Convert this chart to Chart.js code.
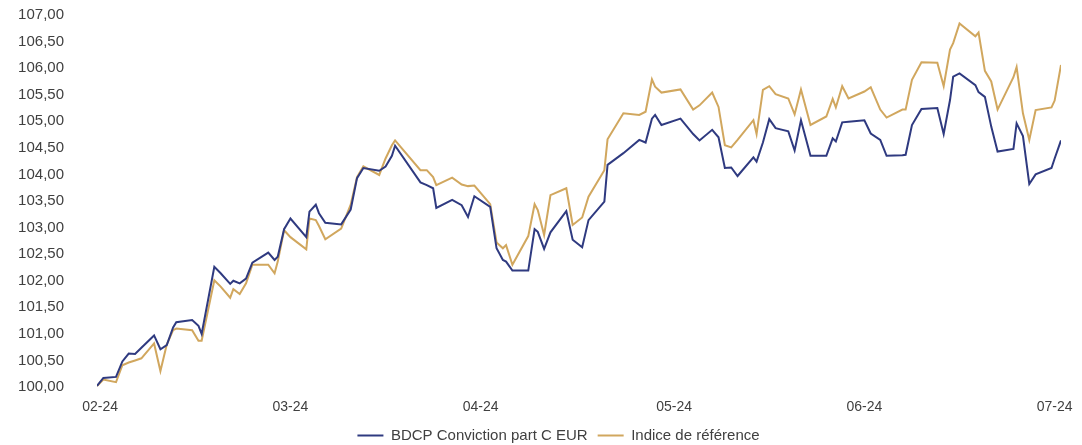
<!DOCTYPE html>
<html>
<head>
<meta charset="utf-8">
<script src="https://cdn.jsdelivr.net/npm/chart.js@4"></script>
<style>
  body { margin: 0; background: #fff; }
  #wrap { width: 1082px; height: 445px; }
</style>
</head>
<body>
<div id="wrap"><canvas id="chart1"></canvas></div>
<script>
// Performance base 100: fund vs benchmark, Feb-24 to Jul-24

// days since 1 Feb 2024
const days = [
  0, 1, 3, 4, 5, 6, 7, 9, 10, 11, 12, 12.5, 15, 16, 16.5, 18.5, 19.5, 21, 21.5, 22.5,
  23.5, 24.5, 27, 28, 28.5, 29.5, 30.5, 33, 33.5, 34.5, 35, 36, 38.5, 40, 41, 42,
  44.5, 45.5, 46.5, 47, 51, 52, 53, 53.5, 56, 57.5, 58.5, 59.5, 62, 63, 64, 64.5,
  65.5, 68, 69, 69.5, 70.5, 71.5, 74, 75, 76.5, 77.5, 80, 80.5, 83, 85.5, 86.5, 87.5,
  88, 89, 92, 94, 95, 97, 98, 99, 100, 101, 103.5, 104, 105, 106, 107, 109, 110, 111,
  112.5, 115, 116, 116.5, 117.5, 118.5, 121, 122, 123.5, 124.5, 127, 127.5, 128.5, 130,
  132.5, 133.5, 134.5, 135, 136, 138.5, 139, 140, 141, 142, 144.5, 145, 146, 147, 148,
  150.5, 151, 152
];

const fund = [
  100.02, 100.17, 100.19, 100.48, 100.63, 100.62, 100.74, 100.97, 100.71, 100.79, 101.12, 101.22, 101.26, 101.15, 101.00, 102.26, 102.14, 101.94, 102.00, 101.95,
  102.04, 102.34, 102.53, 102.39, 102.45, 102.97, 103.17, 102.82, 103.30, 103.43, 103.27, 103.09, 103.06, 103.34, 103.93, 104.12,
  104.07, 104.15, 104.35, 104.54, 103.85, 103.80, 103.74, 103.37, 103.52, 103.42, 103.20, 103.59, 103.39, 102.61, 102.39, 102.36,
  102.19, 102.19, 102.97, 102.92, 102.60, 102.91, 103.31, 102.77, 102.63, 103.14, 103.49, 104.18, 104.40, 104.65, 104.60, 105.05,
  105.12, 104.93, 105.05, 104.76, 104.64, 104.84, 104.70, 104.12, 104.13, 103.97, 104.32, 104.24, 104.60, 105.04, 104.87, 104.81, 104.45, 105.02,
  104.35, 104.35, 104.68, 104.62, 104.98, 104.99, 105.02, 104.77, 104.65, 104.35, 104.36, 104.37, 104.93, 105.23,
  105.25, 104.76, 105.40, 105.84, 105.90, 105.68, 105.55, 105.46, 104.90, 104.43, 104.48, 104.96, 104.72, 103.82, 104.00,
  104.12, 104.30, 104.64
];

const bench = [
  100.02, 100.14, 100.09, 100.41, 100.46, 100.50, 100.54, 100.82, 100.30, 100.80, 101.07, 101.10, 101.07, 100.87, 100.87, 102.01, 101.89, 101.68, 101.84, 101.75,
  101.95, 102.30, 102.30, 102.14, 102.36, 102.95, 102.82, 102.59, 103.17, 103.14, 103.03, 102.78, 102.98, 103.43, 103.95, 104.15,
  103.99, 104.30, 104.55, 104.64, 104.08, 104.08, 103.95, 103.80, 103.94, 103.81, 103.78, 103.79, 103.44, 102.72, 102.61, 102.67,
  102.30, 102.84, 103.44, 103.33, 102.86, 103.61, 103.74, 103.05, 103.19, 103.58, 104.08, 104.66, 105.15, 105.12, 105.18, 105.79,
  105.65, 105.54, 105.60, 105.22, 105.30, 105.54, 105.27, 104.55, 104.51, 104.65, 105.02, 104.76, 105.59, 105.66, 105.51, 105.43, 105.13, 105.60,
  104.93, 105.09, 105.42, 105.26, 105.66, 105.43, 105.56, 105.64, 105.22, 105.07, 105.22, 105.22, 105.78, 106.11,
  106.10, 105.66, 106.35, 106.47, 106.84, 106.60, 106.67, 105.95, 105.75, 105.22, 105.83, 106.02, 105.15, 104.65, 105.21,
  105.26, 105.39, 106.06
];

const monthTicks = [0.5, 30.5, 60.5, 91, 121, 151];
const monthLabels = ["02-24", "03-24", "04-24", "05-24", "06-24", "07-24"];

const toPoints = (values) => values.map((v, i) => ({ x: days[i], y: v }));

const font = { family: "'Liberation Sans', Arial, sans-serif", size: 14 };
const bigFont = { family: "'Liberation Sans', Arial, sans-serif", size: 15 };
const textColor = "#404040";

// legend sits a bit right of the canvas centre in the original
const legendShift = {
  id: "legendShift",
  afterLayout: (chart) => {
    chart.legend.left += 28;
    chart.legend.right += 28;
  },
};

const ctx1 = document.getElementById("chart1").getContext("2d");

const perfChart = new Chart(ctx1, {
  type: "line",
  data: {
    datasets: [
      {
        label: "BDCP Conviction part C EUR",
        data: toPoints(fund),
        borderColor: "#2f3a80",
        backgroundColor: "#2f3a80",
        borderWidth: 2,
        pointRadius: 0,
        tension: 0,
      },
      {
        label: "Indice de référence",
        data: toPoints(bench),
        borderColor: "#d1a75e",
        backgroundColor: "#d1a75e",
        borderWidth: 2,
        pointRadius: 0,
        tension: 0,
      },
    ],
  },
  plugins: [legendShift],
  options: {
    responsive: true,
    maintainAspectRatio: false,
    animation: false,
    layout: { padding: { top: 15, right: 21, bottom: -8, left: 0 } },
    scales: {
      x: {
        type: "linear",
        min: 0,
        max: 152,
        grid: { display: false, drawTicks: false },
        border: { display: false },
        afterBuildTicks: (axis) => {
          axis.ticks = monthTicks.map((v) => ({ value: v }));
        },
        afterFit: (axis) => {
          axis.height = 31;
          axis.paddingLeft = 0;
          axis.paddingRight = 0;
        },
        ticks: {
          autoSkip: false,
          maxRotation: 0,
          padding: 12,
          color: textColor,
          font: font,
          callback: (value, index) => monthLabels[index],
        },
      },
      y: {
        min: 100,
        max: 107,
        grid: { display: false, drawTicks: false },
        border: { display: false },
        afterFit: (axis) => {
          axis.width = 97;
          axis.paddingTop = 7;
          axis.paddingBottom = 7;
        },
        ticks: {
          stepSize: 0.5,
          padding: 33,
          color: textColor,
          font: bigFont,
          callback: (value) => value.toFixed(2).replace(".", ","),
        },
      },
    },
    plugins: {
      tooltip: { enabled: false },
      legend: {
        position: "bottom",
        labels: {
          color: textColor,
          font: bigFont,
          boxWidth: 26,
          boxHeight: 2,
          padding: 10,
          generateLabels: (chart) =>
            chart.data.datasets.map((ds, i) => ({
              text: ds.label,
              fillStyle: ds.borderColor,
              strokeStyle: ds.borderColor,
              lineWidth: 0,
              fontColor: textColor,
              hidden: false,
              datasetIndex: i,
            })),
        },
      },
    },
  },
});
</script>
</body>
</html>
